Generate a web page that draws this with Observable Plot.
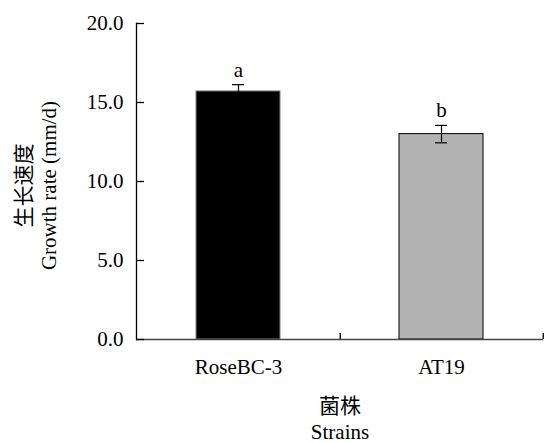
<!DOCTYPE html>
<html>
<head>
<meta charset="utf-8">
<script src="https://cdn.jsdelivr.net/npm/d3@7"></script>
<script src="https://cdn.jsdelivr.net/npm/@observablehq/plot@0.6"></script>
<style>
  body { margin: 0; background: #fff; }
  #chart { width: 544px; height: 443px; }
</style>
</head>
<body>
<div id="chart"></div>
<script>
const strains = ["RoseBC-3", "AT19"];
const growthRate = [15.7, 13.0];
const errors = [0.43, 0.55];
const letters = ["a", "b"];
const barFills = ["#000000", "#b3b3b3"];
const barStrokes = ["#808080", "#000000"];
const yTicks = [0, 5, 10, 15, 20];

const data = strains.map((s, i) => ({strain: s, v: growthRate[i], e: errors[i], letter: letters[i], fill: barFills[i], stroke: barStrokes[i]}));

const width = 544, height = 443;
const marginLeft = 136, marginRight = 1, marginTop = 23, marginBottom = 104;
const step = (width - marginLeft - marginRight) / strains.length;
const font = "'Liberation Serif', 'Times New Roman', 'Noto Sans CJK SC', serif";

const chart = Plot.plot({
  width, height, marginLeft, marginRight, marginTop, marginBottom,
  style: {fontFamily: font, fontSize: "21px", color: "#000", background: "#fff"},
  x: {domain: strains, paddingInner: 0.587, paddingOuter: 0.2935, label: null},
  y: {domain: [0, 20], label: null},
  marks: [
    Plot.barY(data, {x: "strain", y: "v", fill: d => d.fill, stroke: d => d.stroke, strokeWidth: 1}),
    Plot.ruleX(data, {x: "strain", y1: d => d.v - d.e, y2: d => d.v + d.e, stroke: "#000", strokeWidth: 1.2}),
    Plot.tickY(data, {x: "strain", y: d => d.v + d.e, insetLeft: 36, insetRight: 36, stroke: "#000", strokeWidth: 1.2}),
    Plot.tickY(data, {x: "strain", y: d => d.v - d.e, insetLeft: 36, insetRight: 36, stroke: "#000", strokeWidth: 1.2}),
    Plot.text(data, {x: "strain", y: d => d.v + d.e, text: "letter", lineAnchor: "bottom", dy: -8, fontSize: 21}),
    Plot.ruleY([0], {stroke: "#444", strokeWidth: 1.3}),
    Plot.frame({anchor: "left", stroke: "#000", strokeWidth: 1.3}),
    Plot.axisY({ticks: yTicks, tickSize: -8, tickPadding: 21, tickFormat: d3.format(".1f"), fontSize: 21, label: null, strokeWidth: 1.3}),
    Plot.axisX({tickSize: 0, tickPadding: 20, fontSize: 21, label: null}),
    Plot.axisX({tickSize: -6, tickFormat: () => "", dx: step / 2, label: null, strokeWidth: 1.3}),
    Plot.text(["生长速度\nGrowth rate (mm/d)"], {frameAnchor: "left", textAnchor: "middle", rotate: -90, dx: -101, dy: 4, fontSize: 21, lineHeight: 1.19}),
    Plot.text(["菌株\nStrains"], {frameAnchor: "bottom", textAnchor: "middle", lineAnchor: "top", dy: 56, fontSize: 21, lineHeight: 1.2})
  ]
});
document.getElementById("chart").append(chart);
</script>
</body>
</html>
